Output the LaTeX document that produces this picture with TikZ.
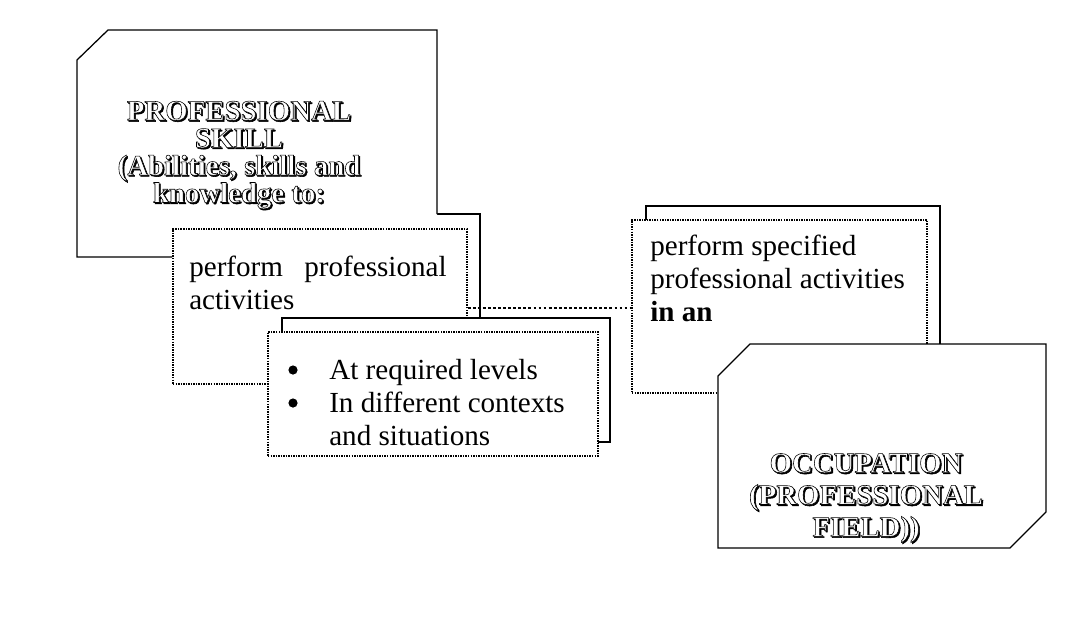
\documentclass[tikz,border=0pt]{standalone}
\usepackage{fontspec}
\setmainfont{Liberation Serif}
\usetikzlibrary{fit}
% hollow (outlined) lettering: white fill, black stroke
\newcommand\hollowon{\special{pdf:literal direct 2 Tr 0.4 w 0 G}}
\newcommand\hollowoff{\special{pdf:literal direct 0 Tr}}
\tikzset{
  frame/.style={draw=black, line width=0.9pt, fill=white, line join=miter},
  frameline/.style={draw=black, line width=0.9pt, line join=miter},
  dotframe/.style={draw=black, line width=1.05pt, dash pattern=on 1.05pt off 0.75pt,
                   fill=white, inner sep=0pt},
  backframe/.style={frame, inner sep=0pt},
  dotlink/.style={draw=black, line width=1.6pt, dash pattern=on 2pt off 1.6pt},
  listdot/.style={fill=black},
  body/.style={font=\fontsize{20.7}{23.4}\selectfont, inner sep=0pt, anchor=north west, align=left},
  hollow/.style={font=\fontsize{20.5}{19.5}\selectfont\bfseries, text=white, inner sep=0pt, align=center},
  hollowwide/.style={hollow, font=\fontsize{20.5}{22.7}\selectfont\bfseries},
}
\begin{document}
\begin{tikzpicture}[x=0.025cm,y=-0.025cm]
\fill[white] (0,0) rectangle (1089,633);
\useasboundingbox (0,0) rectangle (1089,633);

% ---- left group -------------------------------------------------
% raised frame behind the "perform professional activities" box
\node[backframe, fit={(186,214) (480,370)}] (performback) {};
% professional skill plaque (cut corner)
\fill[white] (77,60) -- (108,30) -- (437,30) -- (437,257) -- (77,257) -- cycle;
\draw[frameline] (172,257) -- (77,257) -- (77,60) -- (108,30) -- (437,30) -- (437,214);
\node[hollow, text=black] (skillshadow) at (240.3,156.3)
  {\hollowon PROFESSIONAL\\SKILL\\(Abilities, skills and\\knowledge to:\hollowoff};
\node[hollow] (skill) at (239,155)
  {\hollowon PROFESSIONAL\\SKILL\\(Abilities, skills and\\knowledge to:\hollowoff};

% perform professional activities
\node[dotframe, fit={(173,229) (467,384)}] (perform) {};
\node[body, text width=183pt] (performtext) at (189,256)
  {perform\hfill professional\\activities};

% levels and contexts
\node[backframe, fit={(282,318) (610,442)}] (levelsback) {};
\node[dotframe, fit={(268,332) (598,456)}] (levels) {};
\node[body] (levelstext) at (329,359)
  {At required levels\\In different contexts\\and situations};
\fill[listdot] (293,370) circle (4.6);
\fill[listdot] (293,403) circle (4.6);

% ---- right group ------------------------------------------------
\node[backframe, fit={(646,206) (940,379)}] (specback) {};
\node[dotframe, fit={(632,220) (927,393)}] (spec) {};
\node[body] (spectext) at (650,235)
  {perform specified\\professional activities\\\textbf{in an}};

% occupation plaque (two cut corners)
\coordinate (oc1) at (718,376);
\coordinate (oc2) at (750,344);
\coordinate (oc3) at (1046,344);
\coordinate (oc4) at (1046,512);
\coordinate (oc5) at (1010,548);
\coordinate (oc6) at (718,548);
\draw[frame] (oc1) -- (oc2) -- (oc3) -- (oc4) -- (oc5) -- (oc6) -- cycle;
\node[hollowwide, text=black] (occshadow) at (867.3,499.3)
  {\hollowon OCCUPATION\\(PROFESSIONAL\\FIELD))\hollowoff};
\node[hollowwide] (occ) at (866,498)
  {\hollowon OCCUPATION\\(PROFESSIONAL\\FIELD))\hollowoff};

% dotted link between the two activity boxes
\draw[dotlink] (perform.east |- 0,308) -- (spec.west |- 0,308);
\end{tikzpicture}
\end{document}
